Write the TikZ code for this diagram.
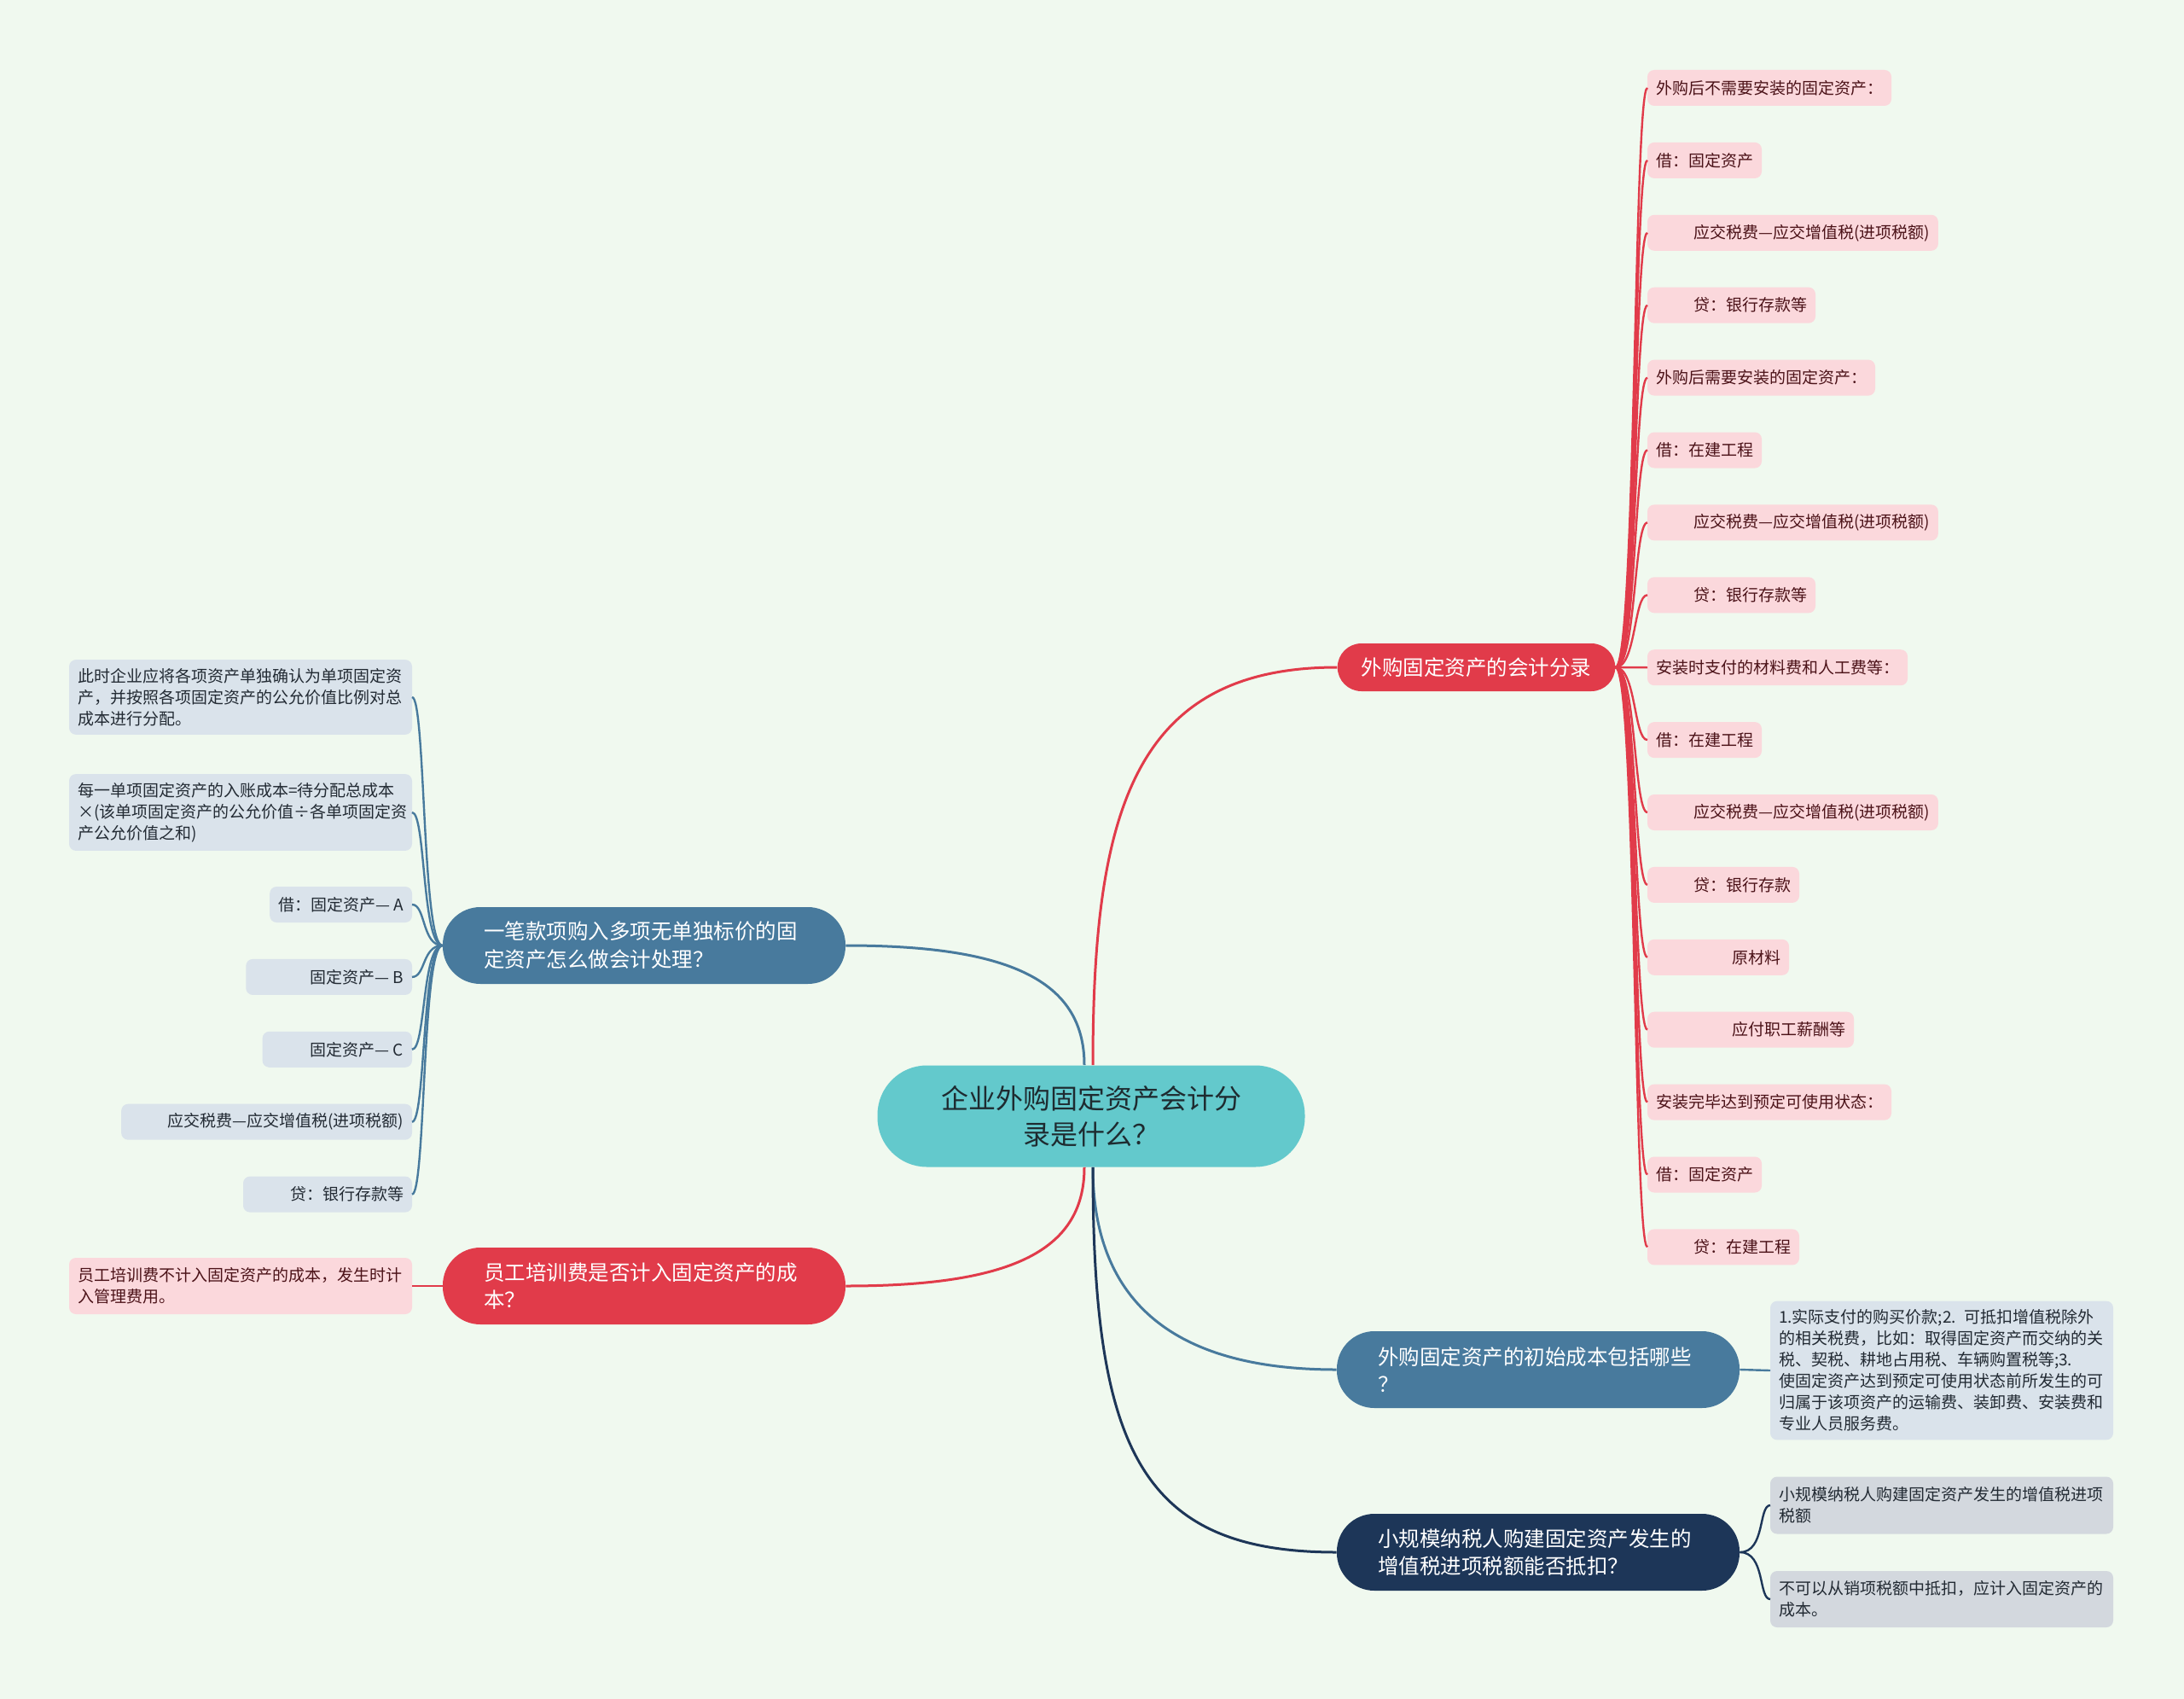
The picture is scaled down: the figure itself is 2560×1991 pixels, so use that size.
\documentclass[tikz,border=0pt]{standalone}
\usepackage{fontspec}
\setmainfont{Noto Sans CJK SC}
\usepackage{xcolor}
\usepackage{tikz}
\usetikzlibrary{positioning}

\definecolor{bgc}{HTML}{F0F9EF}
\definecolor{rootc}{HTML}{63C9CC}
\definecolor{roottxt}{HTML}{1E2B30}
\definecolor{redc}{HTML}{E13B4A}
\definecolor{bluec}{HTML}{487A9D}
\definecolor{navyc}{HTML}{1D3658}
\definecolor{pinkc}{HTML}{FBD8DC}
\definecolor{pinktxt}{HTML}{4B1218}
\definecolor{greyc}{HTML}{DAE3EB}
\definecolor{darkgreyc}{HTML}{D3D8DE}
\definecolor{greytxt}{HTML}{222A33}

\begin{document}
\begin{tikzpicture}[
        x=0.5pt, y=-0.5pt,
        node distance=21.45pt,
        root/.style={rectangle, rounded corners=29pt, fill=rootc, text=roottxt, minimum width=250.5pt, minimum height=59.5pt, align=center, font=\fontsize{16pt}{20.8pt}\selectfont},
        topic/.style={rectangle, text=white, font=\fontsize{12.25pt}{16.3pt}\selectfont},
        pill/.style={topic, rounded corners=22pt, minimum width=236pt, minimum height=45pt, text width=188pt, align=left},
        leaf/.style={rectangle, rounded corners=4pt, inner xsep=5pt, inner ysep=3pt, outer sep=0pt, minimum height=21pt, font=\fontsize{9.5pt}{12.5pt}\selectfont},
        pinkleaf/.style={leaf, fill=pinkc, text=pinktxt},
        greyleaf/.style={leaf, fill=greyc, text=greytxt},
        note/.style={text width=191pt, align=left, inner ysep=5pt},
        link/.style={line width=1.5pt},
        twig/.style={line width=1.2pt}
    ]
        \fill[bgc] (0,0) rectangle (2560,1991);
        \useasboundingbox (0,0) rectangle (2560,1991);

        % centre and main topics
        \node[root] (root) at (1279,1308) {企业外购固定资产会计分\\录是什么？};
        \node[topic, fill=redc, rounded corners=14pt, inner xsep=14pt, minimum height=28pt] (entry) at (1730.5,782) {外购固定资产的会计分录};
        \node[pill, fill=bluec] (multi) at (755,1108) {一笔款项购入多项无单独标价的固\\定资产怎么做会计处理？};
        \node[pill, fill=redc] (train) at (755,1507) {员工培训费是否计入固定资产的成\\本？};
        \node[pill, fill=bluec] (cost) at (1803,1605) {外购固定资产的初始成本包括哪些\\？};
        \node[pill, fill=navyc] (small) at (1803,1819) {小规模纳税人购建固定资产发生的\\增值税进项税额能否抵扣？};

        % entries of the right column
        \node[pinkleaf, anchor=west] (e1) at (1931,103) {外购后不需要安装的固定资产：};
        \node[pinkleaf, below=of e1.south west, anchor=north west] (e2) {借：固定资产};
        \node[pinkleaf, below=of e2.south west, anchor=north west] (e3) {\hspace*{22pt}应交税费—应交增值税(进项税额)};
        \node[pinkleaf, below=of e3.south west, anchor=north west] (e4) {\hspace*{22pt}贷：银行存款等};
        \node[pinkleaf, below=of e4.south west, anchor=north west] (e5) {外购后需要安装的固定资产：};
        \node[pinkleaf, below=of e5.south west, anchor=north west] (e6) {借：在建工程};
        \node[pinkleaf, below=of e6.south west, anchor=north west] (e7) {\hspace*{22pt}应交税费—应交增值税(进项税额)};
        \node[pinkleaf, below=of e7.south west, anchor=north west] (e8) {\hspace*{22pt}贷：银行存款等};
        \node[pinkleaf, below=of e8.south west, anchor=north west] (e9) {安装时支付的材料费和人工费等：};
        \node[pinkleaf, below=of e9.south west, anchor=north west] (e10) {借：在建工程};
        \node[pinkleaf, below=of e10.south west, anchor=north west] (e11) {\hspace*{22pt}应交税费—应交增值税(进项税额)};
        \node[pinkleaf, below=of e11.south west, anchor=north west] (e12) {\hspace*{22pt}贷：银行存款};
        \node[pinkleaf, below=of e12.south west, anchor=north west] (e13) {\hspace*{44.5pt}原材料};
        \node[pinkleaf, below=of e13.south west, anchor=north west] (e14) {\hspace*{44.5pt}应付职工薪酬等};
        \node[pinkleaf, below=of e14.south west, anchor=north west] (e15) {安装完毕达到预定可使用状态：};
        \node[pinkleaf, below=of e15.south west, anchor=north west] (e16) {借：固定资产};
        \node[pinkleaf, below=of e16.south west, anchor=north west] (e17) {\hspace*{22pt}贷：在建工程};

        % left column
        \node[greyleaf, note, anchor=east] (m1) at (483,817) {此时企业应将各项资产单独确认为单项固定资\\产，并按照各项固定资产的公允价值比例对总\\成本进行分配。};
        \node[greyleaf, note, anchor=east] (m2) at (483,952) {每一单项固定资产的入账成本=待分配总成本\\×(该单项固定资产的公允价值÷各单项固定资\\产公允价值之和)};
        \node[greyleaf, anchor=east] (m3) at (483,1060) {借：固定资产— A};
        \node[greyleaf, below=of m3.south east, anchor=north east] (m4) {\hspace*{32.5pt}固定资产— B};
        \node[greyleaf, below=of m4.south east, anchor=north east] (m5) {\hspace*{23pt}固定资产— C};
        \node[greyleaf, below=of m5.south east, anchor=north east] (m6) {\hspace*{22pt}应交税费—应交增值税(进项税额)};
        \node[greyleaf, below=of m6.south east, anchor=north east] (m7) {\hspace*{22.5pt}贷：银行存款等};
        \node[pinkleaf, note, minimum height=33pt, anchor=east] (t1) at (483,1507) {员工培训费不计入固定资产的成本，发生时计\\入管理费用。};

        % right, lower
        \node[greyleaf, note, anchor=west] (k1) at (2075,1606) {1.实际支付的购买价款;2. 可抵扣增值税除外\\的相关税费，比如：取得固定资产而交纳的关\\税、契税、耕地占用税、车辆购置税等;3.\\使固定资产达到预定可使用状态前所发生的可\\归属于该项资产的运输费、装卸费、安装费和\\专业人员服务费。};
        \node[greyleaf, note, fill=darkgreyc, minimum height=33.5pt, anchor=west] (s1) at (2075,1764) {小规模纳税人购建固定资产发生的增值税进项\\税额};
        \node[greyleaf, note, fill=darkgreyc, minimum height=33pt, anchor=west] (s2) at (2075,1874) {不可以从销项税额中抵扣，应计入固定资产的\\成本。};

        \draw[link, redc] ([xshift=1pt]root.north) .. controls +(0,-300) and +(-237,0) .. (entry.west);
        \draw[link, bluec] ([xshift=-4pt]root.north) .. controls +(0,-100) and +(190,0) .. (multi.east);
        \draw[link, redc] ([xshift=-4pt]root.south) .. controls +(0,100) and +(190,0) .. (train.east);
        \draw[link, bluec] ([xshift=1pt]root.south) .. controls +(0,150) and +(-200,0) .. (cost.west);
        \draw[link, navyc] ([xshift=1pt]root.south) .. controls +(0,330) and +(-230,0) .. (small.west);

        \draw[twig, redc] (entry.east) .. controls +(24,0) and +(-16,0) .. (e1.west);
        \draw[twig, redc] (entry.east) .. controls +(24,0) and +(-16,0) .. (e2.west);
        \draw[twig, redc] (entry.east) .. controls +(24,0) and +(-16,0) .. (e3.west);
        \draw[twig, redc] (entry.east) .. controls +(24,0) and +(-16,0) .. (e4.west);
        \draw[twig, redc] (entry.east) .. controls +(24,0) and +(-16,0) .. (e5.west);
        \draw[twig, redc] (entry.east) .. controls +(24,0) and +(-16,0) .. (e6.west);
        \draw[twig, redc] (entry.east) .. controls +(24,0) and +(-16,0) .. (e7.west);
        \draw[twig, redc] (entry.east) .. controls +(24,0) and +(-16,0) .. (e8.west);
        \draw[twig, redc] (entry.east) -- (e9.west);
        \draw[twig, redc] (entry.east) .. controls +(24,0) and +(-16,0) .. (e10.west);
        \draw[twig, redc] (entry.east) .. controls +(24,0) and +(-16,0) .. (e11.west);
        \draw[twig, redc] (entry.east) .. controls +(24,0) and +(-16,0) .. (e12.west);
        \draw[twig, redc] (entry.east) .. controls +(24,0) and +(-16,0) .. (e13.west);
        \draw[twig, redc] (entry.east) .. controls +(24,0) and +(-16,0) .. (e14.west);
        \draw[twig, redc] (entry.east) .. controls +(24,0) and +(-16,0) .. (e15.west);
        \draw[twig, redc] (entry.east) .. controls +(24,0) and +(-16,0) .. (e16.west);
        \draw[twig, redc] (entry.east) .. controls +(24,0) and +(-16,0) .. (e17.west);

        \draw[twig, bluec] (multi.west) .. controls +(-24,0) and +(16,0) .. (m1.east);
        \draw[twig, bluec] (multi.west) .. controls +(-24,0) and +(16,0) .. (m2.east);
        \draw[twig, bluec] (multi.west) .. controls +(-24,0) and +(16,0) .. (m3.east);
        \draw[twig, bluec] (multi.west) .. controls +(-24,0) and +(16,0) .. (m4.east);
        \draw[twig, bluec] (multi.west) .. controls +(-24,0) and +(16,0) .. (m5.east);
        \draw[twig, bluec] (multi.west) .. controls +(-24,0) and +(16,0) .. (m6.east);
        \draw[twig, bluec] (multi.west) .. controls +(-24,0) and +(16,0) .. (m7.east);

        \draw[twig, redc] (train.west) -- (t1.east);
        \draw[twig, bluec] (cost.east) -- (k1.west);
        \draw[twig, navyc] (small.east) .. controls +(30,0) and +(-14,0) .. (s1.west);
        \draw[twig, navyc] (small.east) .. controls +(30,0) and +(-14,0) .. (s2.west);
    \end{tikzpicture}
\end{document}
